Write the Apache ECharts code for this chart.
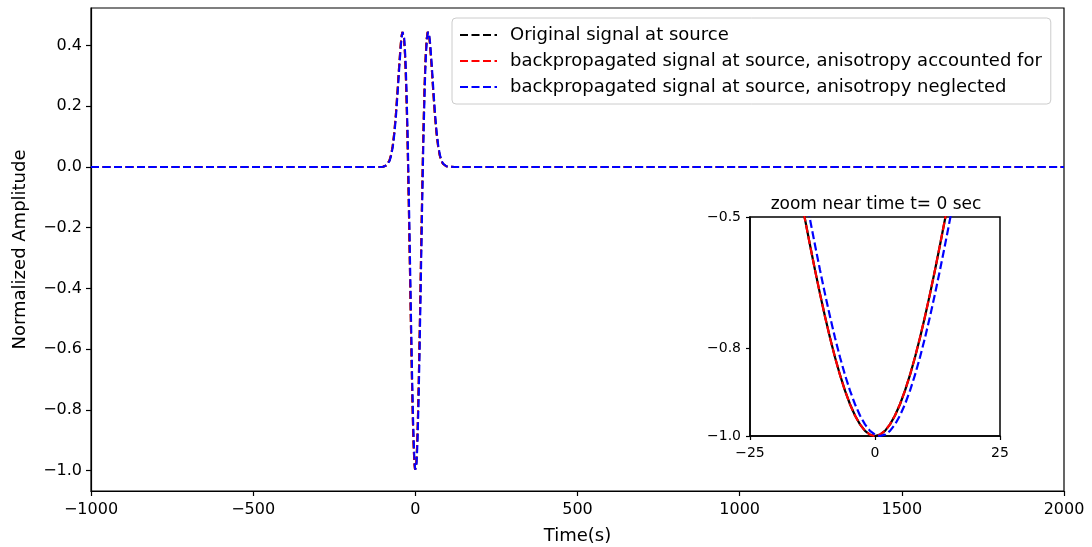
<!DOCTYPE html>
<html>
<head>
<meta charset="utf-8">
<script src="https://cdn.jsdelivr.net/npm/echarts@6/dist/echarts.min.js"></script>
<style>
html,body{margin:0;padding:0;background:#fff;}
#chart{width:1092px;height:547px;}
</style>
</head>
<body>
<div id="chart"></div>
<script>
// ---- data ----
const seriesNames = [
  'Original signal at source',
  'backpropagated signal at source, anisotropy accounted for',
  'backpropagated signal at source, anisotropy neglected'
];

const timeSec = [-1000, -150, -120, -100, -95, -90, -85, -80, -75, -70, -65, -60, -55, -50, -45, -42, -40, -39, -38, -35, -32, -30, -28,
  -25, -24, -23, -22, -21, -20, -19, -18, -17, -16, -15, -14, -13, -12, -11, -10, -9, -8, -7, -6, -5, -4, -3, -2, -1,
  0, 1, 2, 3, 4, 5, 6, 7, 8, 9, 10, 11, 12, 13, 14, 15, 16, 17, 18, 19, 20, 21, 22, 23, 24, 25,
  28, 30, 32, 35, 38, 39, 40, 42, 45, 50, 55, 60, 65, 70, 75, 80, 85, 90, 95, 100, 120, 150, 2000];

const originalSignal = [0, 0, 0, 0.0010, 0.0023, 0.0051, 0.0106, 0.0210, 0.0392, 0.0688, 0.1134, 0.1748, 0.2511, 0.3336, 0.4062, 0.4352, 0.4449, 0.4462, 0.4449, 0.4233, 0.3718, 0.3194, 0.2526,
  0.1261, 0.0776, 0.0262, -0.0277, -0.0838, -0.1418, -0.2013, -0.2618, -0.3229, -0.3842, -0.4452, -0.5053, -0.5640, -0.6209, -0.6755, -0.7272, -0.7756, -0.8202, -0.8606, -0.8965, -0.9275, -0.9532, -0.9735, -0.9882, -0.9970,
  -1.0000, -0.9970, -0.9882, -0.9735, -0.9532, -0.9275, -0.8965, -0.8606, -0.8202, -0.7756, -0.7272, -0.6755, -0.6209, -0.5640, -0.5053, -0.4452, -0.3842, -0.3229, -0.2618, -0.2013, -0.1418, -0.0838, -0.0277, 0.0262, 0.0776, 0.1261,
  0.2526, 0.3194, 0.3718, 0.4233, 0.4449, 0.4462, 0.4449, 0.4352, 0.4062, 0.3336, 0.2511, 0.1748, 0.1134, 0.0688, 0.0392, 0.0210, 0.0106, 0.0051, 0.0023, 0.0010, 0, 0, 0];

const accountedSignal = [0, 0, 0, 0.0010, 0.0023, 0.0051, 0.0106, 0.0210, 0.0392, 0.0689, 0.1135, 0.1749, 0.2512, 0.3337, 0.4063, 0.4353, 0.4450, 0.4462, 0.4449, 0.4233, 0.3718, 0.3193, 0.2525,
  0.1259, 0.0774, 0.0259, -0.0280, -0.0841, -0.1421, -0.2016, -0.2621, -0.3232, -0.3845, -0.4455, -0.5056, -0.5643, -0.6212, -0.6758, -0.7275, -0.7759, -0.8205, -0.8609, -0.8967, -0.9277, -0.9534, -0.9736, -0.9883, -0.9971,
  -1.0000, -0.9970, -0.9881, -0.9734, -0.9530, -0.9273, -0.8962, -0.8603, -0.8199, -0.7753, -0.7269, -0.6752, -0.6206, -0.5637, -0.5050, -0.4449, -0.3839, -0.3226, -0.2615, -0.2010, -0.1415, -0.0835, -0.0274, 0.0264, 0.0778, 0.1263,
  0.2527, 0.3195, 0.3718, 0.4233, 0.4449, 0.4462, 0.4449, 0.4352, 0.4062, 0.3336, 0.2511, 0.1748, 0.1134, 0.0688, 0.0392, 0.0210, 0.0106, 0.0051, 0.0023, 0.0010, 0, 0, 0];

const neglectedTime = [-1000, -149, -119, -99, -94, -89, -84, -79, -74, -69, -64, -59, -54, -49, -44, -41, -39, -38, -37, -34, -31, -29, -27,
  -24, -23, -22, -21, -20, -19, -18, -17, -16, -15, -14, -13, -12, -11, -10, -9, -8, -7, -6, -5, -4, -3, -2, -1, 0,
  1, 2, 3, 4, 5, 6, 7, 8, 9, 10, 11, 12, 13, 14, 15, 16, 17, 18, 19, 20, 21, 22, 23, 24, 25, 26,
  29, 31, 33, 36, 39, 40, 41, 43, 46, 51, 56, 61, 66, 71, 76, 81, 86, 91, 96, 101, 121, 151, 2000];

const neglectedSignal = [0, 0, 0, 0.0010, 0.0023, 0.0051, 0.0106, 0.0210, 0.0392, 0.0688, 0.1134, 0.1748, 0.2511, 0.3336, 0.4062, 0.4352, 0.4449, 0.4462, 0.4449, 0.4233, 0.3718, 0.3194, 0.2526,
  0.1261, 0.0776, 0.0262, -0.0277, -0.0838, -0.1418, -0.2013, -0.2618, -0.3229, -0.3842, -0.4452, -0.5053, -0.5640, -0.6209, -0.6755, -0.7272, -0.7756, -0.8202, -0.8606, -0.8965, -0.9275, -0.9532, -0.9735, -0.9882, -0.9970,
  -1.0000, -0.9970, -0.9882, -0.9735, -0.9532, -0.9275, -0.8965, -0.8606, -0.8202, -0.7756, -0.7272, -0.6755, -0.6209, -0.5640, -0.5053, -0.4452, -0.3842, -0.3229, -0.2618, -0.2013, -0.1418, -0.0838, -0.0277, 0.0262, 0.0776, 0.1261,
  0.2526, 0.3194, 0.3718, 0.4233, 0.4449, 0.4462, 0.4449, 0.4352, 0.4062, 0.3336, 0.2511, 0.1748, 0.1134, 0.0688, 0.0392, 0.0210, 0.0106, 0.0051, 0.0023, 0.0010, 0, 0, 0];

const mainYTicks = [-1.0, -0.8, -0.6, -0.4, -0.2, 0.0, 0.2, 0.4];
const mainXTicks = [-1000, -500, 0, 500, 1000, 1500, 2000];
const insetYTicks = [-1.0, -0.8, -0.5];
const insetXTicks = [-25, 0, 25];
const insetTitle = 'zoom near time t= 0 sec';
const xAxisTitle = 'Time(s)';
const yAxisTitle = 'Normalized Amplitude';

// ---- chart ----
function pairs(t, v) { return t.map((x, i) => [x, v[i]]); }
const minus = s => String(s).replace('-', '\u2212');
const fmt1 = v => minus(Number(v).toFixed(1));
const fmt0 = v => minus(Math.round(v));

const FONT = 'DejaVu Sans';
const dash = [8, 3.5];
const dashIcon = 'path://M0,0h8v2h-8zM11.5,0h8v2h-8zM23,0h8v2h-8zM34.5,0h2.5v2h-2.5z';

const chart = echarts.init(document.getElementById('chart'), null, {renderer: 'canvas'});

const axisCommon = {
  axisLine: {show: true, onZero: false, lineStyle: {color: '#000', width: 1.2}},
  splitLine: {show: false},
};

const option = {
  animation: false,
  backgroundColor: '#fff',
  textStyle: {fontFamily: FONT, color: '#000'},
  title: {
    text: insetTitle,
    left: 871, top: 191, textAlign: 'center',
    textStyle: {fontFamily: FONT, fontSize: 17, fontWeight: 'normal', color: '#000'}
  },
  legend: {
    data: seriesNames.map(n => ({name: n, icon: dashIcon})),
    orient: 'vertical',
    left: 452, top: 18,
    padding: [8, 9, 8, 8],
    itemWidth: 37, itemHeight: 2.2, itemGap: 8,
    borderColor: '#cccccc', borderWidth: 1, borderRadius: 4,
    backgroundColor: 'rgba(255,255,255,0.8)',
    selectedMode: false,
    textStyle: {fontFamily: FONT, fontSize: 18, color: '#000', padding: [0, 0, 0, 8]}
  },
  grid: [
    {left: 91, right: 28, top: 8, bottom: 56, show: true, borderColor: '#000', borderWidth: 1.2,
      backgroundColor: 'transparent', containLabel: false, outerBoundsMode: 'none'},
    {left: 750, width: 250, top: 217, height: 219, show: true, borderColor: '#000', borderWidth: 1.5,
      backgroundColor: '#fff', containLabel: false, outerBoundsMode: 'none'}
  ],
  xAxis: [
    Object.assign({}, axisCommon, {
      type: 'value', gridIndex: 0, min: -1000, max: 2000, interval: 500,
      axisLabel: {fontSize: 16, color: '#000', margin: 11, formatter: fmt0, customValues: mainXTicks},
      axisTick: {show: true, length: 5, lineStyle: {color: '#000', width: 1.2}, customValues: mainXTicks},
      name: xAxisTitle, nameLocation: 'middle', nameGap: 36,
      nameTextStyle: {fontSize: 18, color: '#000', fontFamily: FONT}
    }),
    Object.assign({}, axisCommon, {
      type: 'value', gridIndex: 1, min: -25, max: 25, interval: 25,
      axisLabel: {fontSize: 14, color: '#000', margin: 10, formatter: fmt0, customValues: insetXTicks},
      axisTick: {show: true, length: 4, lineStyle: {color: '#000', width: 1.2}, customValues: insetXTicks},
      axisLine: {show: true, onZero: false, lineStyle: {color: '#000', width: 1.5}}
    })
  ],
  yAxis: [
    Object.assign({}, axisCommon, {
      type: 'value', gridIndex: 0, min: -1.0675, max: 0.524,
      axisLabel: {fontSize: 16, color: '#000', margin: 9, formatter: fmt1, customValues: mainYTicks},
      axisTick: {show: true, length: 5, lineStyle: {color: '#000', width: 1.2}, customValues: mainYTicks},
      name: yAxisTitle, nameLocation: 'middle', nameGap: 62, nameRotate: 90,
      nameTextStyle: {fontSize: 18, color: '#000', fontFamily: FONT}
    }),
    Object.assign({}, axisCommon, {
      type: 'value', gridIndex: 1, min: -1.0, max: -0.5,
      axisLabel: {fontSize: 14, color: '#000', margin: 9, formatter: fmt1, customValues: insetYTicks},
      axisTick: {show: true, length: 4, lineStyle: {color: '#000', width: 1.2}, customValues: insetYTicks},
      axisLine: {show: true, onZero: false, lineStyle: {color: '#000', width: 1.5}}
    })
  ],
  series: [
    {name: seriesNames[0], type: 'line', xAxisIndex: 0, yAxisIndex: 0, showSymbol: false, symbol: 'none',
      data: pairs(timeSec, originalSignal), color: '#000000',
      lineStyle: {color: '#000000', width: 2, type: dash}, z: 2},
    {name: seriesNames[1], type: 'line', xAxisIndex: 0, yAxisIndex: 0, showSymbol: false, symbol: 'none',
      data: pairs(timeSec, accountedSignal), color: '#ff0000',
      lineStyle: {color: '#ff0000', width: 2, type: dash}, z: 3},
    {name: seriesNames[2], type: 'line', xAxisIndex: 0, yAxisIndex: 0, showSymbol: false, symbol: 'none',
      data: pairs(neglectedTime, neglectedSignal), color: '#0000ff',
      lineStyle: {color: '#0000ff', width: 2, type: dash}, z: 4},
    // inset
    {name: seriesNames[0], type: 'line', xAxisIndex: 1, yAxisIndex: 1, showSymbol: false, symbol: 'none', clip: true,
      data: pairs(timeSec, originalSignal), color: '#000000',
      lineStyle: {color: '#000000', width: 2.2, type: 'solid'}, z: 5},
    {name: seriesNames[1], type: 'line', xAxisIndex: 1, yAxisIndex: 1, showSymbol: false, symbol: 'none', clip: true,
      data: pairs(timeSec, accountedSignal), color: '#ff0000',
      lineStyle: {color: '#ff0000', width: 2.2, type: dash}, z: 6},
    {name: seriesNames[2], type: 'line', xAxisIndex: 1, yAxisIndex: 1, showSymbol: false, symbol: 'none', clip: true,
      data: pairs(neglectedTime, neglectedSignal), color: '#0000ff',
      lineStyle: {color: '#0000ff', width: 2.2, type: dash}, z: 7}
  ]
};
chart.setOption(option);
</script>
</body>
</html>
